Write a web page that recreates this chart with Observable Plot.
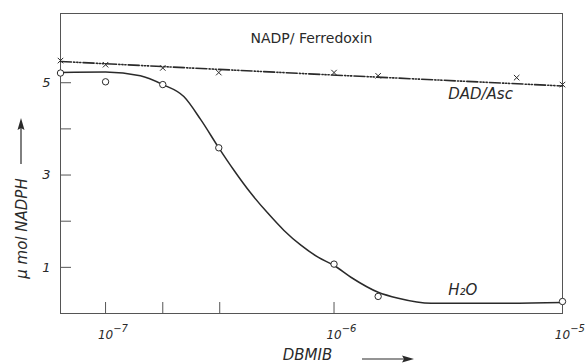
<!DOCTYPE html>
<html>
<head>
<meta charset="utf-8">
<script src="https://cdn.jsdelivr.net/npm/d3@7"></script>
<script src="https://cdn.jsdelivr.net/npm/@observablehq/plot@0.6"></script>
<style>
  html, body { margin: 0; padding: 0; background: #fff; }
</style>
</head>
<body>
<div id="chart"></div>
<script>
// Measured points: DBMIB concentration (M) vs µmol NADPH
const h2oX = [6.35e-8, 1e-7, 1.78e-7, 3.13e-7, 1e-6, 1.56e-6, 1e-5];
const h2oY = [5.21, 5.02, 4.96, 3.59, 1.07, 0.37, 0.26];

const dadX = [6.35e-8, 1e-7, 1.78e-7, 3.13e-7, 1e-6, 1.56e-6, 6.3e-6, 1e-5];
const dadY = [5.48, 5.39, 5.32, 5.22, 5.22, 5.15, 5.11, 4.96];

// Hand-drawn fitted curves
const h2oCurveX = [6.35e-8, 1e-7, 1.42e-7, 1.78e-7, 2.2e-7, 2.61e-7, 3.13e-7, 3.64e-7, 4.32e-7, 5.14e-7, 6.04e-7, 7.16e-7, 8.51e-7, 1e-6, 1.19e-6, 1.56e-6, 1.91e-6, 2.66e-6, 5.24e-6, 1e-5];
const h2oCurveY = [5.22, 5.23, 5.15, 4.96, 4.70, 4.20, 3.59, 3.11, 2.61, 2.17, 1.80, 1.48, 1.22, 1.04, 0.78, 0.46, 0.33, 0.22, 0.22, 0.24];

const dadLineX = [6.35e-8, 7.2e-7, 1e-5];
const dadLineY = [5.46, 5.2, 4.93];

// Axis ticks
const xTickMarks = [1e-7, 1.78e-7, 3.16e-7, 1e-6];
const xTickLabels = [1e-7, 1e-6, 1e-5];
const xTickBase = ["10", "10", "10"];
const xTickExp = ["\u22127", "\u22126", "\u22125"];
const yTickMarks = [1, 2, 3, 4, 5];
const yTickLabels = [1, 3, 5];

// Series labels
const seriesLabels = [
  {text: "DAD/Asc", x: 3.16e-6, y: 4.76},
  {text: "H\u2082O", x: 3.16e-6, y: 0.5}
];

const h2oPts = h2oX.map((x, i) => ({x, y: h2oY[i]}));
const dadPts = dadX.map((x, i) => ({x, y: dadY[i]}));
const h2oCurve = h2oCurveX.map((x, i) => ({x, y: h2oCurveY[i]}));
const dadLine = dadLineX.map((x, i) => ({x, y: dadLineY[i]}));
const xLab = xTickLabels.map((x, i) => ({x, base: xTickBase[i], exp: xTickExp[i]}));

const ink = "#2a2a2a";

const chart = Plot.plot({
  width: 587,
  height: 364,
  marginLeft: 60,
  marginRight: 25,
  marginTop: 13,
  marginBottom: 51,
  style: {fontFamily: "DejaVu Sans", fontSize: "12px", color: ink, background: "#fff"},
  x: {type: "log", domain: [6.35e-8, 1e-5], axis: null},
  y: {domain: [0, 6.5], axis: null},
  marks: [
    Plot.frame({stroke: "#555", strokeWidth: 1}),
    Plot.tickX(xTickMarks, {x: d => d, insetTop: 289, stroke: "#555"}),
    Plot.tickY(yTickMarks, {y: d => d, insetRight: 491, stroke: "#555"}),
    Plot.text(xLab, {x: "x", text: "base", frameAnchor: "bottom", dy: 25, fontStyle: "italic", fontSize: 12, fill: ink}),
    Plot.text(xLab, {x: "x", text: "exp", frameAnchor: "bottom", dy: 18, dx: 15, fontStyle: "italic", fontSize: 10, fill: ink}),
    Plot.axisY({ticks: yTickLabels, tickSize: 0, tickPadding: 10, fontStyle: "italic", fontSize: 13, tickFormat: d => String(d), label: null}),
    Plot.line(dadLine, {x: "x", y: "y", stroke: ink, strokeWidth: 1.6, strokeDasharray: "11,2.2,1.2,1.8,1.2,1.8,1.2,2.2"}),
    Plot.line(h2oCurve, {x: "x", y: "y", curve: "monotone-x", stroke: ink, strokeWidth: 1.5}),
    Plot.dot(h2oPts, {x: "x", y: "y", r: 3.2, stroke: ink, strokeWidth: 1, fill: "#fff"}),
    Plot.dot(dadPts, {x: "x", y: "y", r: 2.6, symbol: "times", stroke: ink, strokeWidth: 1}),
    Plot.text(["NADP/ Ferredoxin"], {frameAnchor: "top", dy: 20, fontSize: 14, fill: ink}),
    Plot.text(seriesLabels, {x: "x", y: "y", text: "text", textAnchor: "start", fontStyle: "italic", fontSize: 15, fill: ink}),
    Plot.text(["DBMIB"], {frameAnchor: "bottom", dy: 46, dx: -4, fontStyle: "italic", fontSize: 15, letterSpacing: "2px", fill: ink}),
    Plot.text(["\u03BC mol NADPH"], {frameAnchor: "left", textAnchor: "middle", rotate: -90, dx: -38, dy: 65, fontStyle: "italic", fontSize: 15, letterSpacing: "1.5px", fill: ink})
  ]
});

document.getElementById("chart").appendChild(chart);

// Direction arrows beside the axis titles
const svg = d3.select(chart);
const g = svg.append("g").attr("fill", ink).attr("stroke", ink);
g.append("line").attr("x1", 362).attr("y1", 359).attr("x2", 404).attr("y2", 359).attr("stroke-width", 1.2);
g.append("path").attr("d", "M414,359 L402,355.5 L404,359 L402,362.5 Z").attr("stroke", "none");
g.append("line").attr("x1", 21).attr("y1", 164).attr("x2", 21).attr("y2", 128).attr("stroke-width", 1.2);
g.append("path").attr("d", "M21,118 L17.5,130 L21,128 L24.5,130 Z").attr("stroke", "none");
</script>
</body>
</html>
